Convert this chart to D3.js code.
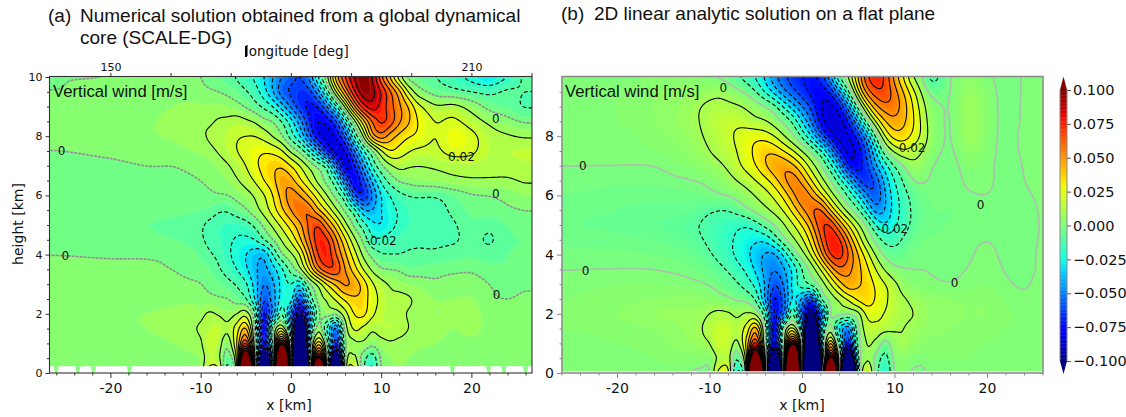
<!DOCTYPE html>
<html><head><meta charset="utf-8">
<script src="https://cdnjs.cloudflare.com/ajax/libs/d3/7.8.5/d3.min.js"></script>
<style>html,body{margin:0;background:#fff}svg{display:block}</style></head>
<body><svg id="c" width="1126" height="417"></svg>
<script>
// Sampling nodes of the vertical-wind field (km), values in 0.001 m/s, first row = top of the plot
const xNodes=[-26,-20,-16,-13,-11,-10,-9,-8,-7,-6,-5,-4,-3,-2,-1,0,1,2,3,4,5,6,7,8,9,10,11,12,13,14,16,18,20,22,24,26];
const heights=[10,9.5,9,8.5,8,7.5,7,6.5,6,5.5,5,4.5,4,3.5,3,2.5,2,1.5,1,.5,0];
const windNumerical=[
[0,0,1,1,0,0,-3,-5,-8,-11,-16,-22,-30,-40,-50,-56,-60,-48,-20,8,45,70,90,100,90,62,38,14,-3,-6,-10,-16,-24,-30,-20,-8],
[0,1,2,3,3,2,1,0,-2,-5,-9,-15,-26,-40,-56,-62,-66,-64,-45,-15,20,50,78,97,94,80,62,44,20,5,-4,-7,-10,-12,-8,-10],
[1,2,3,5,6,6,6,6,5,3,-1,-6,-12,-20,-35,-52,-66,-72,-70,-50,-22,12,48,75,86,76,64,52,40,24,12,13,6,-3,-6,-11],
[1,2,4,7,9,9,9,11,12,14,12,9,3,0,-10,-25,-45,-68,-80,-76,-62,-28,5,35,60,72,66,52,42,30,20,22,15,8,3,-1],
[1,2,4,6,8,9,11,13,16,19,20,20,16,9,1,-15,-30,-55,-78,-83,-78,-58,-20,10,45,56,45,37,31,28,20,28,23,14,11,9],
[0,1,2,3,5,6,8,11,15,20,24,27,29,27,21,8,-3,-20,-42,-70,-86,-80,-52,-22,-3,18,30,26,21,18,18,24,22,15,15,16],
[-2,-1,0,0,1,2,3,6,9,14,20,28,33,38,38,30,20,8,-2,-14,-50,-85,-72,-45,-18,-2,8,13,11,10,11,13,14,13,13,14],
[-2,-2,-1.5,-1,-.5,0,1,3,5,9,14,21,30,37,48,44,32,20,7,-4,-18,-52,-80,-62,-38,-18,-6,1,3,5,6,8,9,9,9,11],
[-3,-3,-3,-2.5,-2,-1.5,-1,-.5,0,3,6,11,19,30,44,55,50,38,24,10,-4,-18,-58,-70,-50,-30,-20,-13,-10,-9,-9,-5,-1,0,2,5],
[-4,-4,-4,-4,-4.5,-5,-6,-9,-9,-5,-1,6,14,25,38,50,60,58,42,28,12,-2,-15,-38,-40,-30,-23,-19,-15,-14,-14,-8,-4,-3,-1,0],
[-4,-5,-5,-6,-7,-9,-12,-14,-16,-16,-14,-8,2,12,23,35,47,62,70,52,34,14,-2,-15,-27,-30,-24,-18,-15,-14,-14,-11,-6,-8,-5,-2],
[-3,-4,-4,-5,-7,-9,-12,-15,-18,-21,-22,-20,-10,0,11,22,38,58,75,72,52,32,13,-2,-18,-18,-15,-13,-12,-11,-11,-11,-8,-11,-6,-5],
[0,-.5,-.5,-1,-3,-6,-9,-12,-18,-24,-30,-36,-38,-20,-1,8,20,45,70,76,60,42,25,8,-3,-9,-10,-10,-9,-9,-9,-7,-6,-7,-5,-4],
[1,1,.8,-.2,-2,-3,-5,-9,-14,-20,-28,-38,-43,-34,-22,-6,8,30,55,68,68,50,35,20,8,1,0,-1,-4,-4,-2,-1.5,-1,-3.5,-4.5,-3.5],
[1,2,2,2,1,.2,-2,-4,-7,-11,-18,-34,-50,-42,-26,-20,-28,-3,12,30,42,52,47,36,22,14,9,7,5,4,1,3,3,0,-2,-1],
[2,3,3,4,4,3,2,1,0,-4,-9,-30,-58,-45,-25,-25,-60,-20,3,12,22,32,38,36,24,18,12,12,11,8,5,5,5,1,0,1],
[2,4,5,6,7,8,11,9,6,10,15,-10,-70,-45,-12,-50,-100,-50,-4,4,2,16,30,32,22,16,13,12,9.5,7,5,6,7,3,2,2],
[2,3,5,7,9,11,15,16,12,25,40,-5,-78,-5,20,-40,-180,-45,5,-20,-50,3,21,18,12,14,15,13,10,8,6,5,6,4,3,3],
[2,2,3,5,7,9,18,14,4,30,70,3,-82,-8,92,-15,-270,-40,35,-5,-70,-3,8,8,3,7,9,8,7,6,5,4,4,3,3,2],
[1,1,2,3,4,6,15,12,-6,25,150,10,-160,-20,250,-15,-340,-60,105,-1,-150,-5,12,-5,-15,1,5,6,5,4,3,3,2,2,2,1],
[0,1,1,2,3,5,25,22,-14,25,300,20,-300,-30,400,-25,-380,-80,300,0,-300,-10,25,-8,-22,0,4,5,4,3,3,2,2,1,1,1]];
const windAnalytic=[
[0,1,2,3,2,.5,-2,-4,-10,-16,-22,-32,-47,-58,-65,-70,-72,-65,-42,-6,12,40,70,78,68,45,28,8,0,-16,0,4,1,-2,.5,1],
[0,2,4,5,6,7,8,6,3,-1,-10,-22,-35,-48,-58,-66,-74,-78,-72,-45,-12,25,55,68,69,55,40,24,8,-3,0,6,3,-2,.5,1],
[0,2,4,6,10,12,13,12,11,9,6,2,-4,-20,-35,-50,-62,-80,-84,-75,-45,-8,25,48,57,57,45,30,14,3,0,8,3,-1.5,.5,1],
[0,2,4,7,10,14,16,18,18,15,11,10,5,-1,-10,-30,-50,-75,-87,-85,-72,-40,-6,22,40,47,42,32,17,4,-.5,8,3,-1.5,.5,1],
[0,1,3,5,9,12,15,18,22,26,28,26,20,10,1,-12,-30,-55,-75,-87,-81,-68,-42,-8,22,36,36,28,18,5,-.5,8,3,-1.5,1,1],
[1,1,2,4,7,10,13,16,20,26,33,39,38,30,21,10,-1,-15,-38,-70,-85,-78,-58,-30,-2,12,19,15,10,3,-1,5,2,-1.5,.7,1],
[0,0,0,2,4,6,8,12,18,24,30,40,48,50,43,30,15,2,-15,-35,-74,-76,-62,-40,-25,-10,-1,8,5,0,-2,2,1,-1.5,.2,1],
[-1,-1.5,-1.5,-.5,0,1,3,6,10,14,20,26,35,48,58,47,30,15,2,-15,-30,-60,-70,-58,-35,-20,-8,0,1,-1,-2,1,1,-1.5,0,1],
[-2,-3,-3,-3,-2,-1,0,1,3,6,10,15,22,32,47,60,50,32,16,3,-12,-25,-48,-60,-40,-25,-14,-7,-3,-1.5,-2,-.5,0,-1.5,-.5,.5],
[-3,-4,-5,-5,-7,-9,-10.5,-10,-6,-1,4,8,13,21,33,48,60,67,40,20,5,-8,-25,-48,-40,-25,-16,-8,-4,-2,-2,-2,-1.5,-1.5,-1,.3],
[-4,-5,-6,-8,-10.5,-13,-15,-17,-19,-20,-15,-6,0,8,18,30,46,68,75,50,30,13,0,-20,-30,-22,-15,-8,-4,-3,-2,-1.5,-1,-1.5,-1,.2],
[-2.5,-3,-4,-6,-9,-12,-15,-18.5,-21,-26,-28,-29,-16,-1,8,18,34,58,78,75,50,28,8,-3,-14,-14,-8,-3,-2,-1.5,-1,-.5,0,-.7,-1,.3],
[-1.5,-1.5,-2,-3,-6,-9,-13,-17,-23,-28,-36,-42,-45,-30,-8,6,22,45,72,78,62,42,25,8,-2,-6,-4,-2,-1,-1,-.7,-.3,.5,-.5,-.8,.5],
[0,0,0,-1,-2.5,-4,-7,-11,-16,-22,-32,-44,-50,-42,-30,-12,1,18,40,58,52,44,33,20,8,1.5,.5,0,0,-.2,-.7,.1,1,-.2,-.6,.3],
[1,2,2,1.5,.5,-.5,-2.5,-5,-9,-15,-23,-40,-60,-50,-25,-12,-4,3,18,35,48,42,37,28,21,13,5,2.5,1.5,.5,-.1,1.2,2,.4,-.3,.8],
[2,3,4,4.5,4.5,4,2.5,1,-1,-3,-12,-40,-72,-55,-28,-42,-60,-12,3,12,22,32,36,29,22,15,11,8,6,5,4,3.5,3.5,1.5,.5,1],
[2,4,6,6.5,7,10,12,11,8,11,8,-18,-70,-50,-12,-55,-102,-55,-3,2,0,7,22,24,19,14,11.5,10,7,5.5,4.5,4,4,2.5,1.5,1.5],
[2,3,4,6,9,14,18,18,14,24,42,-4,-76,-5,22,-35,-185,-45,4,-28,-45,-5,15,16,13,11,10,8,6,5,4,3.5,3,2,1.5,1],
[1,2,3,5,7,10,19,17,8,33,72,0,-80,0,92,-15,-280,-60,38,-12,-72,-10,10,7,-3,6,9,6,4,3,3,2.5,2,1.5,1,1],
[1,1,2,3,3,3,12,14,-8,30,155,15,-165,0,260,-25,-350,-110,105,5,-160,-20,8,-3,-13,2,4,2,1,2,2,2,1,1,1,.5],
[0,1,1,1,-1,0,22,22,-22,30,320,30,-320,0,420,-35,-400,-130,310,8,-320,-40,20,-5,-20,0,2,-.5,-.5,1,1,1,1,1,.5,.5]];
const surfaceGaps=[-26,-23.6,-21.9,-17.9,17.9,21.9,23.6,26];
const colorTicks=[-.1,-.075,-.05,-.025,0,.025,.05,.075,.1];
const lonTicks=[150,160,170,180,190,200,210,220];
const lonLabels=[150,210];
const labelsA=[[-25.4,7.5,"0"],[-25,3.95,"0"],[22.7,8.6,"0"],[22.7,6.05,"0"],[22.8,2.63,"0"],[18.9,7.3,"0.02"],[10,4.46,"-0.02"]];
const labelsB=[[-8.5,9.63,"0"],[-23.7,7,"0"],[-23.4,3.45,"0"],[19.3,5.68,"0"],[16.5,3.04,"0"],[11.9,7.6,"0.02"],[9.8,4.86,"-0.02"]];
// matplotlib jet
const jetT=[0,.11,.125,.34,.35,.375,.64,.65,.66,.89,.91,1];
const jetC=["#000080","#0000ff","#0000ff","#00dbff","#00e5f7","#15ffe2","#efff08","#f7f500","#ffec00","#ff1300","#e80000","#800000"];

const jet=d3.scaleLinear().domain(jetT.map(t=>(t-.5)*200)).range(jetC).clamp(true);
const sans="'DejaVu Sans'", arial="'Liberation Sans'";
const svg=d3.select("#c");
const clipCount={n:0};

function sampler(field){
  const ix=d3.scaleLinear().domain(xNodes).range(d3.range(xNodes.length)).clamp(true);
  const iy=d3.scaleLinear().domain(heights).range(d3.range(heights.length)).clamp(true);
  const cr=(a,b,c,d,t)=>.5*(2*b+(c-a)*t+(2*a-5*b+4*c-d)*t*t+(3*b-a-3*c+d)*t*t*t);
  const nx=xNodes.length,ny=heights.length;
  const rowAt=(r,fx)=>{
    const R=field[Math.max(0,Math.min(ny-1,r))];
    const i=Math.min(nx-2,Math.floor(fx)),t=fx-i;
    return cr(R[Math.max(0,i-1)],R[i],R[i+1],R[Math.min(nx-1,i+2)],t);
  };
  return (X,H)=>{
    const fx=ix(X),fy=iy(H);
    const j=Math.min(ny-2,Math.floor(fy)),t=fy-j;
    return cr(rowAt(j-1,fx),rowAt(j,fx),rowAt(j+1,fx),rowAt(j+2,fx),t);
  };
}
// separable box smoothing, removes the grid wobble of the coarse reading
function boxBlur(src,W,H,rx,ry){
  const a=new Float64Array(W*H),b=new Float64Array(W*H);
  for(let j=0;j<H;j++){for(let i=0;i<W;i++){let s=0;
    for(let k=-rx;k<=rx;k++) s+=src[j*W+Math.max(0,Math.min(W-1,i+k))];
    a[j*W+i]=s/(2*rx+1);}}
  for(let j=0;j<H;j++){for(let i=0;i<W;i++){let s=0;
    for(let k=-ry;k<=ry;k++) s+=a[Math.max(0,Math.min(H-1,j+k))*W+i];
    b[j*W+i]=s/(2*ry+1);}}
  return b;
}

function drawField(o){
  const {x,y,left,right,top,bottom,field,step,seam,lineW,zero,gridDash,blur}=o;
  const m=2, W=Math.round(right-left)+2*m, H=Math.round(bottom-top)+2*m;
  const f=sampler(field), raw=new Float64Array(W*H);
  for(let j=0;j<H;j++){const h=y.invert(top-m+j+.5);
    for(let i=0;i<W;i++) raw[j*W+i]=f(x.invert(left-m+i+.5),h);}
  const sm=boxBlur(boxBlur(raw,W,H,blur[0],blur[1]),W,H,blur[0],blur[1]);
  const mix=d3.scaleLinear().domain([2.2,3.2]).range([0,1]).clamp(true);
  const vals=new Float64Array(W*H);
  for(let j=0;j<H;j++){const w=mix(y.invert(top-m+j+.5));
    for(let i=0;i<W;i++) vals[j*W+i]=raw[j*W+i]*(1-w)+sm[j*W+i]*w;}
  const id="clip"+(++clipCount.n);
  svg.append("clipPath").attr("id",id).append("rect").attr("x",left).attr("y",top).attr("width",right-left).attr("height",bottom-top);
  const g=svg.append("g").attr("clip-path",`url(#${id})`).append("g").attr("transform",`translate(${left-m},${top-m})`);
  const path=d3.geoPath();
  const cont=d3.contours().size([W,H]);
  g.append("rect").attr("width",W).attr("height",H).attr("fill",jet(-100));
  const fills=d3.range(-100,100,step);
  fills.forEach(t=>{
    const p=g.append("path").datum(cont.thresholds([t])(vals)[0]).attr("d",path).attr("fill",jet(t+step/2));
    if(seam) p.attr("stroke","rgba(255,255,255,.2)").attr("stroke-width",.5);
  });
  g.append("path").datum(cont.thresholds([100])(vals)[0]).attr("d",path).attr("fill",jet(100));
  d3.range(-100,101,10).forEach(t=>{
    const p=g.append("path").datum(cont.thresholds([t])(vals)[0]).attr("d",path).attr("fill","none");
    if(t===0) p.attr("stroke",zero.color).attr("stroke-width",zero.w).attr("stroke-dasharray",zero.dash).attr("opacity",zero.op);
    else p.attr("stroke","#000").attr("stroke-width",lineW).attr("stroke-dasharray",t<0?gridDash:null);
  });
}

function axes(o){
  const {x,y,left,right,top,bottom,color,yTickSize,yVals,yFont,xFont,frameW}=o;
  const b=svg.append("g").attr("transform",`translate(0,${bottom})`)
    .call(d3.axisBottom(x).tickValues([-20,-10,0,10,20]).tickFormat(d=>String(d)).tickSize(5).tickPadding(5));
  const bm=svg.append("g").attr("transform",`translate(0,${bottom})`)
    .call(d3.axisBottom(x).tickValues(d3.range(-26,27,2).filter(d=>d%10)).tickFormat("").tickSize(2.5));
  const l=svg.append("g").attr("transform",`translate(${left},0)`)
    .call(d3.axisLeft(y).tickValues(yVals).tickFormat(d=>String(d)).tickSize(yTickSize).tickPadding(3));
  const lm=svg.append("g").attr("transform",`translate(${left},0)`)
    .call(d3.axisLeft(y).tickValues(d3.range(0,10.1,.5).filter(d=>d%2)).tickFormat("").tickSize(2.5));
  [b,bm,l,lm].forEach(s=>{s.select(".domain").remove();s.selectAll("line").attr("stroke",color);});
  b.selectAll("text").attr("font-family",sans).attr("font-size",xFont).attr("fill","#111");
  l.selectAll("text").attr("font-family",sans).attr("font-size",yFont).attr("fill","#111");
  svg.append("rect").attr("x",left).attr("y",top).attr("width",right-left).attr("height",bottom-top)
    .attr("fill","none").attr("stroke",color).attr("stroke-width",frameW);
}

function labels(list,x,y){
  list.forEach(d=>svg.append("text").attr("x",x(d[0])).attr("y",y(d[1])).attr("dy",".36em").attr("text-anchor","middle")
    .attr("font-family",sans).attr("font-size",12).attr("fill","#111").text(d[2]));
}
function txt(s,xp,yp,size,fam,extra){
  const t=svg.append("text").attr("x",xp).attr("y",yp).attr("font-family",fam).attr("font-size",size).attr("fill","#111").text(s);
  if(extra) extra(t); return t;
}

// Panel (a)
const xA=d3.scaleLinear().domain([-20,20]).range([110.4,471.4]);
const yAll=d3.scaleLinear().domain([0,10]).range([373,77]);
drawField({x:xA,y:yAll,left:49.5,right:532,top:76.5,bottom:373,field:windNumerical,step:5,seam:true,lineW:1.1,gridDash:"4 2.4",blur:[2,4],
  zero:{color:"#8a8a8a",w:1.6,dash:"3 1",op:.95}});
// white terrain strip with its gaps
svg.append("rect").attr("x",49.5).attr("y",yAll(.23)).attr("width",482.5).attr("height",yAll(0)-yAll(.23)).attr("fill","#fff");
svg.selectAll(null).data(surfaceGaps).enter().append("path").attr("fill",jet(1))
  .attr("d",d=>d3.line()([[xA(d-.3),yAll(.23)],[xA(d+.3),yAll(.23)],[xA(d+.1),yAll(0)],[xA(d-.1),yAll(0)]])+"Z");
axes({x:xA,y:yAll,left:49.5,right:532,top:76.5,bottom:373,color:"#333",yTickSize:4,yVals:[0,2,4,6,8,10],yFont:11,xFont:14,frameW:1.1});
const lon=d3.scaleLinear().domain([150,210]).range([110.4,471.4]);
const lonAxis=svg.append("g").attr("transform","translate(0,76.5)")
  .call(d3.axisTop(lon).tickValues(lonTicks).tickFormat(d=>lonLabels.includes(d)?String(d):"").tickSize(3.5).tickPadding(2));
lonAxis.select(".domain").remove(); lonAxis.selectAll("line").attr("stroke","#333");
lonAxis.selectAll("text").attr("font-family",sans).attr("font-size",11).attr("fill","#111");
txt("longitude [deg]",245,56,13.5,sans);
svg.append("rect").attr("x",245).attr("y",46).attr("width",2).attr("height",11).attr("fill","#000");
labels(labelsA,xA,yAll);
txt("Vertical wind [m/s]",53,97,16.7,arial);
txt("x [km]",289,410,14,sans,t=>t.attr("text-anchor","middle"));
txt("height [km]",0,0,14,sans,t=>t.attr("text-anchor","middle").attr("transform","translate(23,224) rotate(-90)"));
txt("(a)",48,22,19,arial); txt("Numerical solution obtained from a global dynamical",80,22,19,arial);
txt("core (SCALE-DG)",80,44,19,arial);

// Panel (b)
const xB=d3.scaleLinear().domain([-20,20]).range([617,987]);
drawField({x:xB,y:yAll,left:562,right:1043,top:76.5,bottom:373,field:windAnalytic,step:2,seam:false,lineW:1.1,gridDash:"4 2.4",blur:[4,7],
  zero:{color:"#b5b5b5",w:1.8,dash:null,op:.8}});
svg.append("rect").attr("x",562).attr("y",yAll(.06)).attr("width",481).attr("height",yAll(0)-yAll(.06)).attr("fill","#fff");
axes({x:xB,y:yAll,left:562,right:1043,top:76.5,bottom:373,color:"#888",yTickSize:5,yVals:[0,2,4,6,8],yFont:14,xFont:14,frameW:1.5});
labels(labelsB,xB,yAll);
txt("Vertical wind [m/s]",565,97,16.7,arial);
txt("x [km]",802,410,14,sans,t=>t.attr("text-anchor","middle"));
txt("(b)",561,20,19,arial); txt("2D linear analytic solution on a flat plane",594,20,19,arial);

// Colour bar
const cy=d3.scaleLinear().domain([-.1,.1]).range([361,90]);
const cx0=1060,cx1=1067;
svg.append("g").selectAll("rect").data(d3.range(-.1,.1,.001)).enter().append("rect")
  .attr("x",cx0).attr("width",cx1-cx0).attr("y",d=>cy(d+.001)).attr("height",d=>cy(d)-cy(d+.001)+.4).attr("fill",d=>jet((d+.0005)*1000));
svg.append("path").attr("d",d3.line()([[cx0,cy(.1)],[cx1,cy(.1)],[(cx0+cx1)/2,76.5]])+"Z").attr("fill",jet(100));
svg.append("path").attr("d",d3.line()([[cx0,cy(-.1)],[cx1,cy(-.1)],[(cx0+cx1)/2,374]])+"Z").attr("fill",jet(-100));
svg.append("path").attr("d",d3.line()([[cx0,cy(-.1)],[cx0,cy(.1)]])).attr("stroke","#888").attr("fill","none");
svg.append("path").attr("d",d3.line()([[cx1,cy(-.1)],[cx1,cy(.1)]])).attr("stroke","#888").attr("fill","none");
const ca=svg.append("g").attr("transform",`translate(${cx1},0)`)
  .call(d3.axisRight(cy).tickValues(colorTicks).tickFormat(d3.format(".3f")).tickSize(4).tickPadding(2));
ca.select(".domain").remove(); ca.selectAll("line").attr("stroke","#555");
ca.selectAll("text").attr("font-family",sans).attr("font-size",14.5).attr("fill","#111");
</script></body></html>
